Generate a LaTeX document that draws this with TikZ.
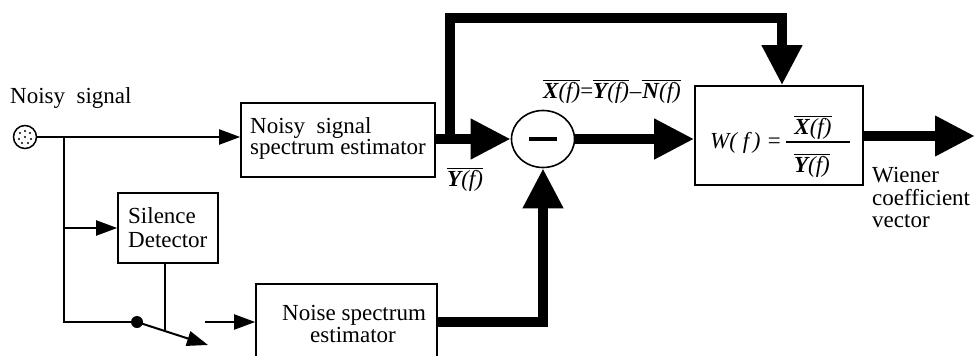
\documentclass[tikz,border=0pt]{standalone}
\usepackage{fontspec}
\setmainfont{Liberation Serif}
\usetikzlibrary{arrows.meta,shapes.geometric}
\newcommand{\ovl}[1]{$\overline{\mbox{#1}}$}
\begin{document}
\begin{tikzpicture}[x=1pt,y=-1pt,
  box/.style={draw,line width=1.6pt,inner sep=0pt,rectangle},
  txt/.style={inner sep=0pt,anchor=base west,font=\fontsize{23}{23}\selectfont},
  sigline/.style={line width=2pt},
  thinarr/.style={line width=2pt,-{Triangle[length=21pt,width=15pt]}},
  thickarr/.style={line width=10pt,-{Triangle[length=40pt,width=38pt]}},
]
\path[use as bounding box,clip] (0,0) rectangle (975,356);

% source
\node[draw,circle,line width=1.5pt,minimum size=23pt,inner sep=0pt] (src) at (25,137) {};
\foreach \dx/\dy [count=\i] in {-5/-4,0/-6,5/-4,-6/2,0/0,6/2,-3/6,3/6}
  \fill (25+\dx,137+\dy) circle (1.1pt);
\node[txt] (lnoisy) at (10,103) {Noisy\ \ signal};

% boxes
\node[box,minimum width=194pt,minimum height=74pt] (nse) at (338,140) {};
\node[txt] (nse1) at (250,133) {Noisy\ \ signal};
\node[txt] (nse2) at (250,154) {spectrum estimator};

\node[box,minimum width=100pt,minimum height=70pt] (sd) at (168,228) {};
\node[txt] (sd1) at (128,223) {Silence};
\node[txt] (sd2) at (128,247) {Detector};

\node[box,minimum width=181pt,minimum height=90pt] (nb) at (346.5,329) {};
\node[txt] (nb1) at (282,320) {Noise spectrum};
\node[txt] (nb2) at (310,342) {estimator};

\node[draw,ellipse,line width=1.6pt,minimum width=63pt,minimum height=57pt,inner sep=0pt] (sub) at (543,139) {};
\draw[line width=3.5pt] ([xshift=-14pt]sub.center) -- ([xshift=14pt]sub.center);

\node[box,minimum width=168pt,minimum height=99pt] (wb) at (779,135.5) {};
\node[txt] (wl) at (710,148) {\itshape W( f\,) =};
\node[txt,anchor=base] (wnum) at (813,134) {\ovl{\bfseries\itshape X\mdseries(f)}};
\node[txt,anchor=base] (wden) at (812,172) {\ovl{\bfseries\itshape Y\mdseries(f)}};
\draw[line width=1.6pt] (786,142) -- (850,142);

% labels
\node[txt] (xeq) at (543,98) {\ovl{\bfseries\itshape X\mdseries(f)}=\ovl{\bfseries\itshape Y\mdseries(f)}\kern1pt--\kern1pt\ovl{\bfseries\itshape N\mdseries(f)}};
\node[txt] (ylab) at (447,186) {\ovl{\bfseries\itshape Y\mdseries(f)}};
\node[txt] (w1) at (872,182) {Wiener};
\node[txt] (w2) at (872,205) {coefficient};
\node[txt] (w3) at (872,227) {vector};

% coordinates
\coordinate (b1) at (64,137);
\node[circle,fill,minimum size=12pt,inner sep=0pt] (dot) at (137,322) {};
\coordinate (swtip) at (208,345);
\coordinate (swjoin) at (165,331);
\coordinate (nin) at (205,322);
\coordinate (tap) at (450,139);
\coordinate (topR) at (782,18);
\coordinate (out) at (975,136);

% thin connectors
\draw[thinarr] (src.east) -- (src.east -| nse.west);
\draw[sigline] (b1) |- (dot.center);
\draw[thinarr] (b1 |- sd.west) -- (sd.west);
\draw[thinarr] (dot.center) -- (swtip);
\draw[sigline] (sd.south -| swjoin) -- (swjoin);
\draw[thinarr] (nin) -- (nin -| nb.west);

% thick connectors
\draw[thickarr] (nse.east |- sub.west) -- (sub.west);
\draw[thickarr] (nb.east |- nin) -| (sub.south);
\draw[thickarr] (tap) -- (tap |- topR) -- (topR) -- (topR |- wb.north);
\draw[thickarr] (sub.east) -- (sub.east -| wb.west);
\draw[thickarr] (wb.east |- out) -- (out);
\end{tikzpicture}
\end{document}
